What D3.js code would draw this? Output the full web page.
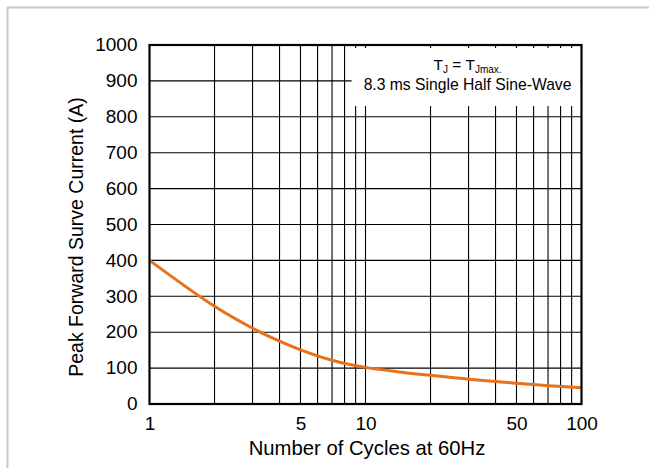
<!DOCTYPE html>
<html>
<head>
<meta charset="utf-8">
<script src="https://cdn.jsdelivr.net/npm/d3@7"></script>
<style>
  html, body { margin: 0; padding: 0; background: #fff; }
  svg { display: block; font-family: "Liberation Sans", Arial, sans-serif; }
</style>
</head>
<body>
<svg id="chart" width="649" height="468"></svg>
<script>
// ---- data ----
const cycles  = [1, 2, 3, 4, 5, 7, 10, 15, 20, 30, 50, 70, 100];
const current = [400, 272, 211, 175, 151, 122, 102, 88, 80, 69, 58, 51, 45];
const yTicks = [0, 100, 200, 300, 400, 500, 600, 700, 800, 900, 1000];
const xGrid = [2, 3, 4, 5, 6, 7, 8, 9, 10, 20, 30, 40, 50, 60, 70, 80, 90];
const xTickLabels = [1, 5, 10, 50, 100];
const xTitle = "Number of Cycles at 60Hz";
const yTitle = "Peak Forward Surve Current (A)";

// ---- layout ----
const L = 149.5, R = 581.5, T = 45, B = 404;
const svg = d3.select("#chart");

// outer light border
svg.append("line").attr("x1", 7).attr("x2", 649).attr("y1", 7.5).attr("y2", 7.5)
  .attr("stroke", "#c8c8c8").attr("stroke-width", 2);
svg.append("line").attr("x1", 7.5).attr("x2", 7.5).attr("y1", 7).attr("y2", 468)
  .attr("stroke", "#c8c8c8").attr("stroke-width", 2);

const x = d3.scaleLog().domain([1, 100]).range([L, R]);
const y = d3.scaleLinear().domain([0, 1000]).range([B, T]);

// grid
const g = svg.append("g");
g.selectAll(".vg").data(xGrid).join("line")
  .attr("x1", d => x(d)).attr("x2", d => x(d)).attr("y1", T).attr("y2", B)
  .attr("stroke", "#000").attr("stroke-width", 1.1);
g.selectAll(".hg").data(yTicks.slice(1, -1)).join("line")
  .attr("x1", L).attr("x2", R).attr("y1", d => y(d)).attr("y2", d => y(d))
  .attr("stroke", "#000").attr("stroke-width", 1.1);

// annotation background box
const boxL = x(9) - 4, boxT = T + 3, boxB = y(830);
svg.append("rect").attr("x", boxL).attr("y", boxT)
  .attr("width", R - 1 - boxL).attr("height", boxB - boxT).attr("fill", "#fff");

// curve
const pts = cycles.map((c, i) => [c, current[i]]);
svg.append("path").datum(pts)
  .attr("d", d3.line().x(d => x(d[0])).y(d => y(d[1])).curve(d3.curveCatmullRom.alpha(0.5)))
  .attr("fill", "none").attr("stroke", "#E8711A").attr("stroke-width", 3);

// frame
svg.append("rect").attr("x", L).attr("y", T).attr("width", R - L).attr("height", B - T)
  .attr("fill", "none").attr("stroke", "#000").attr("stroke-width", 2.2);

// y axis labels
const yAxis = d3.axisLeft(y).tickValues(yTicks).tickSize(0).tickPadding(12)
  .tickFormat(d3.format("d"));
const ya = svg.append("g").attr("transform", `translate(${L},0)`).call(yAxis);
ya.select(".domain").remove();
ya.selectAll("text").attr("font-size", 19).attr("fill", "#000")
  .attr("font-family", "'Liberation Sans', Arial, sans-serif").attr("dy", "0.3em");

// x axis labels
const xAxis = d3.axisBottom(x).tickValues(xTickLabels).tickSize(0).tickPadding(13)
  .tickFormat(d3.format("d"));
const xa = svg.append("g").attr("transform", `translate(0,${B})`).call(xAxis);
xa.select(".domain").remove();
xa.selectAll("text").attr("font-size", 19).attr("fill", "#000")
  .attr("font-family", "'Liberation Sans', Arial, sans-serif");

// titles
svg.append("text").attr("x", 367).attr("y", 455).attr("text-anchor", "middle")
  .attr("font-size", 20.3).text(xTitle);
svg.append("text").attr("transform", "translate(83,237) rotate(-90)")
  .attr("text-anchor", "middle").attr("font-size", 19.5).text(yTitle);

// annotation
const cx = (boxL + R) / 2 + 1;
const t1 = svg.append("text").attr("x", cx).attr("y", 70).attr("text-anchor", "middle")
  .attr("font-size", 15.5);
t1.append("tspan").text("T");
t1.append("tspan").attr("font-size", 10).attr("dy", 3).text("J");
t1.append("tspan").attr("dy", -3).text(" = T");
t1.append("tspan").attr("font-size", 10).attr("dy", 3).text("Jmax.");
svg.append("text").attr("x", cx).attr("y", 90).attr("text-anchor", "middle")
  .attr("font-size", 15.7).text("8.3 ms Single Half Sine-Wave");
</script>
</body>
</html>
